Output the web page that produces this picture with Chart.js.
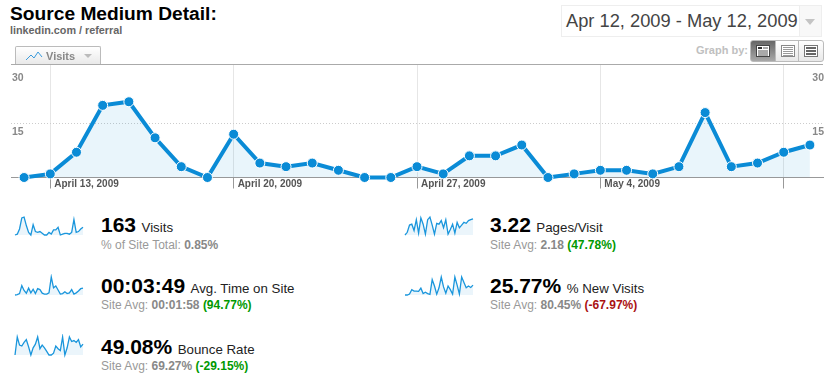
<!DOCTYPE html>
<html lang="en">
<head>
<meta charset="UTF-8">
<title>Source Medium Detail</title>
<script src="https://cdn.jsdelivr.net/npm/chart.js"></script>
<style>
html, body { margin: 0; padding: 0; background: #fff; }
body { width: 832px; height: 380px; position: relative; overflow: hidden; font-family: "Liberation Sans", Arial, sans-serif; }
.abs { position: absolute; white-space: nowrap; }
canvas { position: absolute; display: block; }
#title { left: 10px; top: 2px; font-size: 19.2px; line-height: 23px; font-weight: bold; color: #000; }
#sub { left: 10px; top: 23px; font-size: 10.8px; line-height: 14px; font-weight: bold; color: #666; }
#range { left: 561px; top: 5px; width: 259px; height: 30px; border: 1px solid #eee; }
#range span { position: absolute; left: 4px; top: 3px; font-size: 18.3px; line-height: 24px; color: #444; }
#range i { position: absolute; right: 0; top: 0; width: 21px; height: 30px; background: #f8f8f8; border-left: 1px solid #eee; }
#range i:after { content: ""; position: absolute; left: 5px; top: 13px; border: 5px solid transparent; border-top: 6px solid #c4c4c4; border-bottom: 0; }
#tab { left: 15px; top: 46px; width: 84px; height: 17px; border: 1px solid #bbb; border-bottom: 0; border-radius: 2px 2px 0 0; background: linear-gradient(#fff, #e9e9e9); z-index: 2; }
#tab b { position: absolute; left: 30px; top: 2px; font-size: 11px; line-height: 14px; color: #888; }
#tab svg { position: absolute; left: 9px; top: 3px; }
#tab i { position: absolute; left: 68px; top: 7px; border: 4px solid transparent; border-top: 4px solid #bbb; border-bottom: 0; }
#gby { left: 696px; top: 43px; font-size: 11px; line-height: 14px; font-weight: bold; color: #c0c0c0; }
.gbtn { position: absolute; top: 40px; height: 20px; border: 1px solid #bbb; background: linear-gradient(#fff, #e8e8e8); box-sizing: content-box; }
.gbtn svg { position: absolute; left: 4px; top: 3px; }
.big { font-size: 21px; line-height: 24px; font-weight: bold; color: #000; }
.lab { font-size: 13.3px; line-height: 16px; color: #222; margin-left: 1px; }
.subt { font-size: 12px; line-height: 14px; color: #999; }
.subt b { color: #888; }
.subt .g { color: #090; }
.subt .r { color: #a11; }
</style>
</head>
<body>
<div class="abs" id="title">Source Medium Detail:</div>
<div class="abs" id="sub">linkedin.com / referral</div>
<div class="abs" id="range"><span>Apr 12, 2009 - May 12, 2009</span><i></i></div>
<div class="abs" id="gby">Graph by:</div>
<div class="gbtn" style="left:750px;width:24px;border-radius:3px 0 0 3px;background:linear-gradient(#666,#a8a8a8)"><svg width="16" height="14"><rect x="1.5" y="1.5" width="13" height="11" fill="#fff" stroke="#444"/><rect x="3" y="3" width="4" height="2" fill="#333"/><path d="M8 4H13M3 7H13M3 9H13M3 11H13" stroke="#555"/></svg></div>
<div class="gbtn" style="left:775px;width:22px"><svg width="16" height="14"><rect x="1.5" y="1.5" width="13" height="11" fill="#fff" stroke="#888"/><path d="M3 3.5H13M3 5.5H13M3 7.5H13M3 9.5H13M3 11.5H13" stroke="#999"/></svg></div>
<div class="gbtn" style="left:798px;width:24px;border-radius:0 3px 3px 0"><svg width="16" height="14"><rect x="1.5" y="1.5" width="13" height="11" fill="#fff" stroke="#777"/><path d="M3 4H13M3 7H13M3 10H13" stroke="#666" stroke-width="2"/></svg></div>
<div class="abs" id="tab"><svg width="18" height="12"><polyline points="1,10 6,5 9,8 13,2 17,7" fill="none" stroke="#3a9bdc" stroke-width="1"/></svg><b>Visits</b><i></i></div>

<canvas id="mainChart" width="832" height="135" style="left:0;top:60px"></canvas>

<canvas id="sparkVisits" width="72" height="24" style="left:13px;top:214px"></canvas>
<canvas id="sparkTime" width="72" height="24" style="left:13px;top:274px"></canvas>
<canvas id="sparkBounce" width="72" height="24" style="left:13px;top:334px"></canvas>
<canvas id="sparkPages" width="72" height="24" style="left:403px;top:214px"></canvas>
<canvas id="sparkNew" width="72" height="24" style="left:403px;top:274px"></canvas>

<div class="abs" style="left:101px;top:213px"><span class="big">163</span> <span class="lab">Visits</span></div>
<div class="abs subt" style="left:101px;top:238px">% of Site Total: <b>0.85%</b></div>
<div class="abs" style="left:101px;top:274px"><span class="big">00:03:49</span> <span class="lab">Avg. Time on Site</span></div>
<div class="abs subt" style="left:101px;top:298px">Site Avg: <b>00:01:58</b> <b class="g">(94.77%)</b></div>
<div class="abs" style="left:101px;top:335px"><span class="big">49.08%</span> <span class="lab">Bounce Rate</span></div>
<div class="abs subt" style="left:101px;top:359px">Site Avg: <b>69.27%</b> <b class="g">(-29.15%)</b></div>
<div class="abs" style="left:490px;top:213px"><span class="big">3.22</span> <span class="lab">Pages/Visit</span></div>
<div class="abs subt" style="left:490px;top:238px">Site Avg: <b>2.18</b> <b class="g">(47.78%)</b></div>
<div class="abs" style="left:490px;top:274px"><span class="big">25.77%</span> <span class="lab">% New Visits</span></div>
<div class="abs subt" style="left:490px;top:298px">Site Avg: <b>80.45%</b> <b class="r">(-67.97%)</b></div>

<script>
const dates = [
  'April 12, 2009', 'April 13, 2009', 'April 14, 2009', 'April 15, 2009', 'April 16, 2009', 'April 17, 2009',
  'April 18, 2009', 'April 19, 2009', 'April 20, 2009', 'April 21, 2009', 'April 22, 2009', 'April 23, 2009',
  'April 24, 2009', 'April 25, 2009', 'April 26, 2009', 'April 27, 2009', 'April 28, 2009', 'April 29, 2009',
  'April 30, 2009', 'May 1, 2009', 'May 2, 2009', 'May 3, 2009', 'May 4, 2009', 'May 5, 2009', 'May 6, 2009',
  'May 7, 2009', 'May 8, 2009', 'May 9, 2009', 'May 10, 2009', 'May 11, 2009', 'May 12, 2009'
];
const visits = [0, 1, 7, 20, 21, 11, 3, 0, 12, 4, 3, 4, 2, 0, 0, 3, 1, 6, 6, 9, 0, 1, 2, 2, 1, 3, 18, 3, 4, 7, 9];
const avgTime = [0, 2, 8, 52, 25, 10, 38, 12, 32, 8, 35, 30, 10, 5, 5, 12, 100, 40, 50, 28, 5, 8, 18, 8, 12, 30, 5, 12, 22, 35, 38];
const bounceRate = [0, 100, 55, 50, 70, 85, 45, 0, 40, 60, 100, 35, 55, 40, 20, 0, 0, 10, 50, 35, 25, 100, 0, 40, 100, 75, 80, 70, 85, 45, 60];
const pagesVisit = [0, 15, 55, 60, 25, 85, 10, 95, 60, 5, 85, 100, 55, 5, 65, 60, 80, 40, 85, 5, 30, 60, 10, 70, 40, 55, 70, 65, 80, 85, 90];
const newVisits = [0, 0, 5, 30, 22, 22, 20, 38, 8, 15, 8, 3, 85, 50, 5, 40, 100, 45, 10, 50, 30, 5, 100, 55, 5, 100, 70, 40, 50, 42, 55];
const yTicks = [0, 15, 30];
const yTop = 31.33;

// weekly marks, the label on the last one is left out
const tickStep = 7;
const isWeekTick = i => i % tickStep === 1;
const hasLabel = i => isWeekTick(i) && i < 29;

const blue = '#0a8bd6';

function yScale(position) {
  return {
    position: position,
    min: 0,
    max: yTop,
    afterBuildTicks: s => { s.ticks = yTicks.concat(yTop).map(v => ({ value: v })); },
    afterFit: s => { s.width = 0; s.paddingTop = 0; s.paddingBottom = 0; },
    border: { display: false, dash: ctx => (ctx.tick && ctx.tick.value === 15 ? [1, 2] : []) },
    grid: {
      display: position === 'left',
      drawTicks: false,
      color: ctx => (ctx.tick.value === 15 ? '#ccc' : ctx.tick.value === yTop ? '#aaa' : 'rgba(0,0,0,0)')
    },
    ticks: {
      mirror: true,
      padding: 1,
      autoSkip: false,
      color: '#888',
      font: { family: 'Liberation Sans', size: 10.5, weight: 'bold', lineHeight: 1.75 },
      // second line pushes the number just under its gridline
      callback: v => (v === 15 || v === 30 ? ['', String(v)] : '')
    }
  };
}

new Chart(document.getElementById('mainChart'), {
  type: 'line',
  data: {
    labels: dates,
    datasets: [{
      data: visits,
      yAxisID: 'y',
      clip: false,
      borderColor: blue,
      borderWidth: 4,
      fill: 'origin',
      backgroundColor: 'rgba(10,139,214,0.09)',
      pointRadius: 5,
      pointBorderWidth: 1,
      pointBorderColor: '#fff',
      pointBackgroundColor: blue,
      tension: 0
    }]
  },
  options: {
    responsive: false,
    animation: false,
    layout: { autoPadding: false, padding: { left: 11, right: 9, top: 4.5, bottom: 0 } },
    plugins: { legend: { display: false }, tooltip: { enabled: false } },
    scales: {
      x: {
        offset: true,
        afterFit: s => { s.height = 17.5; },
        border: { color: '#999', width: 1 },
        grid: {
          tickLength: 11,
          color: ctx => (isWeekTick(ctx.index) ? '#e6e6e6' : 'rgba(0,0,0,0)'),
          tickColor: ctx => (isWeekTick(ctx.index) ? '#999' : 'rgba(0,0,0,0)')
        },
        ticks: {
          autoSkip: false,
          maxRotation: 0,
          align: 'start',
          labelOffset: 4,
          padding: -10,
          color: '#555',
          font: { family: 'Liberation Sans', size: 10, weight: 'bold' },
          callback: (v, i) => (hasLabel(i) ? dates[i] : '')
        }
      },
      y: yScale('left'),
      y1: yScale('right')
    }
  }
});

function spark(id, values) {
  new Chart(document.getElementById(id), {
    type: 'line',
    data: {
      labels: dates,
      datasets: [{
        data: values,
        clip: false,
        borderColor: '#1a96dc',
        borderWidth: 1.3,
        fill: 'origin',
        backgroundColor: '#ebf5fb',
        pointRadius: 0,
        tension: 0
      }]
    },
    options: {
      responsive: false,
      animation: false,
      layout: { autoPadding: false, padding: { left: 2, right: 2, top: 3, bottom: 3 } },
      plugins: { legend: { display: false }, tooltip: { enabled: false } },
      scales: {
        x: { display: false },
        y: { display: false, min: 0, max: Math.max.apply(null, values) }
      }
    }
  });
}

spark('sparkVisits', visits);
spark('sparkTime', avgTime);
spark('sparkBounce', bounceRate);
spark('sparkPages', pagesVisit);
spark('sparkNew', newVisits);
</script>
</body>
</html>
